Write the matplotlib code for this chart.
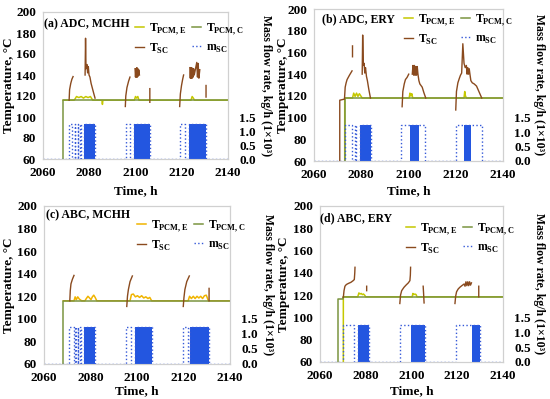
import numpy as np
import matplotlib
matplotlib.use("Agg")
import matplotlib.pyplot as plt

plt.rcParams["font.family"] = "Liberation Serif"
plt.rcParams["font.weight"] = "bold"
plt.rcParams["mathtext.fontset"] = "custom"
plt.rcParams["mathtext.rm"] = "Liberation Serif"
plt.rcParams["mathtext.bf"] = "Liberation Serif:bold"

nan = np.nan
M_ON = 1.24  # kg/h (x10^3) while the solar pump runs

# ---------------- (a) ADC, MCHH
a_pcmc_t = [2068.7, 2068.7, 2140]
a_pcmc_v = [60, 116, 116]
a_pcme_t = [2068.7, 2073.5, 2074.5, 2075.5, 2076.5, 2077.5, 2078.5, 2079.5, 2080.5, 2081.5,
            2085.5, 2085.7, 2085.9, 2099.5, 2100.0, 2100.5, 2101.0, 2101.5,
            2124.0, 2124.5, 2125.0, 2125.5, 2140]
a_pcme_v = [116, 116, 119.5, 118.5, 119.5, 118, 119.5, 118.5, 119.5, 116,
            116, 112, 116, 116, 119.5, 118, 119.5, 116,
            116, 119.5, 118, 116, 116]
a_tsc_t = [2071.3, 2071.5, 2072.0, 2072.5, 2073.0, nan,
           2078.2, 2078.4, 2078.6, 2079.0, 2079.3, 2079.6, 2079.9, 2080.3, 2080.8, 2081.4, 2082.0, 2082.5, nan,
           2095.6, 2095.8, 2096.3, 2097.0, 2097.6, nan,
           2099.8, 2100.0, 2100.2, 2100.4, 2100.6, 2100.8, 2101.0, 2101.2, 2101.4, 2101.7, nan,
           2106.2, 2106.2, nan,
           2119.1, 2119.4, 2119.9, 2120.4, 2120.8, nan,
           2123.5, 2123.7, 2123.9, 2124.1, 2124.3, 2124.5, 2124.7, 2124.9, 2125.1, 2125.4,
           2126.5, 2126.8, 2127.1, 2127.4, 2127.8, nan,
           2130.5, 2130.5]
a_tsc_v = [116, 126, 132, 136, 138.5, nan,
           140, 175, 146, 150, 142, 148, 140, 138, 132, 127, 122, 118, nan,
           110, 120, 128, 134, 138, nan,
           146, 138, 146, 138, 147, 138, 146, 139, 145, 140, nan,
           127, 114, nan,
           110, 122, 130, 136, 140, nan,
           147, 137, 147, 137, 147, 137, 146, 138, 146, 140,
           152, 138, 151, 137, 145, nan,
           130, 119]
a_msc_on = [(2071.3, 2072.7), (2073.8, 2074.0), (2075.0, 2075.2), (2076.1, 2076.3),
            (2095.7, 2097.5), (2119.4, 2121.2)]
a_msc_dense = [(2077.8, 2082.5), (2099.3, 2106.1), (2123.2, 2130.5)]

# ---------------- (b) ADC, ERY
b_pcmc_t = [2073.0, 2073.0, 2140]
b_pcmc_v = [60, 118, 118]
b_pcme_t = [2073.0, 2073.0, 2076.3, 2076.8, 2077.4, 2078.0, 2078.6, 2079.2, 2079.8, 2080.4,
            2100.3, 2100.6, 2101.0, 2101.4, 2101.8, 2123.5, 2123.8, 2124.1, 2124.5, 2140]
b_pcme_v = [60, 118, 118, 122.5, 119.5, 122.5, 119.5, 122, 120, 118,
            118, 122.5, 120, 122, 118, 118, 124, 120, 118, 118]
b_tsc_t = [2070.9, 2070.9, 2072.9, 2073.2, 2073.6, 2074.0, 2075.0, 2076.1, nan,
           2076.3, 2076.3, nan,
           2080.4, 2080.6, 2080.9, 2081.2, 2081.5, 2081.8, 2082.2, 2082.6, 2083.2, 2083.9, nan,
           2097.3, 2097.6, 2098.2, 2098.7, 2099.4, 2100.1, nan,
           2101.6, 2101.9, 2102.2, 2102.5, 2102.8, 2103.1, 2103.4, 2103.7, 2104.0, 2104.4,
           2104.8, 2105.3, 2105.8, 2106.5, 2107.3, nan,
           2120.0, 2120.3, 2120.9, 2121.5, 2122.0, 2122.5, 2123.0, 2123.5, 2124.0, 2124.5,
           2124.8, 2125.1, 2125.4, 2125.7, 2126.0, 2126.4, 2127.0, 2127.8, 2128.8, 2129.8, 2131.0]
b_tsc_v = [60, 116, 117, 128, 132, 135, 139, 143, nan,
           166, 156, nan,
           140, 176, 148, 150, 141, 146, 138, 134, 126, 118, nan,
           110, 124, 131, 135, 137, 140, nan,
           140, 148, 139, 148, 139, 147, 139, 147, 140, 134,
           131, 129.5, 128, 123, 118, nan,
           107, 124, 132, 136, 139, 141, 168, 150, 146, 148,
           140, 146, 140, 145, 140, 134, 132, 131, 129, 124, 118]
b_msc_on = [(2073.1, 2076.2), (2077.2, 2077.9), (2096.8, 2100.6), (2104.5, 2107.0),
            (2120.3, 2123.4), (2126.6, 2131.3)]
b_msc_dense = [(2079.4, 2084.2), (2100.6, 2104.5), (2123.4, 2126.6)]

# ---------------- (c) ABC, MCHH
c_pcmc_t = [2068.3, 2068.3, 2140]
c_pcmc_v = [60, 116, 116]
c_pcme_t = [2068.3, 2072.9, 2073.4, 2073.9, 2074.5, 2075.2, 2076.2,
            2077.6, 2078.2, 2078.9, 2079.6, 2080.2, 2080.8, 2081.4, 2082.0, 2082.7,
            2097.0, 2097.6, 2098.4, 2099.3, 2100.2, 2101.1, 2102.0, 2102.9, 2103.8, 2104.7, 2105.5, 2106.3,
            2122.0, 2122.6, 2123.4, 2124.2, 2125.0, 2125.8, 2126.6, 2127.4, 2128.2, 2129.0, 2129.8, 2130.7,
            2140]
c_pcme_v = [116, 116, 119.5, 117, 119.5, 117.5, 116,
            116, 118, 120, 118.5, 117, 119.5, 121, 119, 116,
            116, 121.5, 122, 119.5, 120.5, 119, 120.5, 118.5, 119.5, 118, 119, 116,
            116, 120, 118, 120, 118, 120, 118.5, 120, 118, 120.5, 121, 116,
            116]
c_tsc_t = [2071.1, 2071.3, 2071.6, 2072.2, 2072.9, nan,
           2095.6, 2095.9, 2096.3, 2097.0, 2098.0, nan,
           2119.9, 2120.2, 2120.6, 2121.4, 2122.5, nan,
           2131.0, 2131.0]
c_tsc_v = [116, 125, 131, 135, 138.5, nan,
           111, 120, 126, 133, 138, nan,
           111, 119, 126, 133, 138, nan,
           116, 127]
c_msc_on = [(2070.9, 2072.9), (2073.5, 2073.7), (2074.5, 2074.7), (2075.6, 2075.8),
            (2095.1, 2097.3), (2119.9, 2122.1)]
c_msc_dense = [(2077.4, 2081.8), (2099.1, 2106.3), (2122.8, 2131.0)]

# ---------------- (d) ABC, ERY
d_pcmc_t = [2068.0, 2068.0, 2070.2, 2070.2, 2140]
d_pcmc_v = [60, 116.5, 116.5, 118.5, 118.5]
d_pcme_t = [2070.2, 2070.2, 2076.5, 2077.0, 2077.5, 2078.0, 2078.5, 2079.0, 2079.5, 2080.0,
            2100.3, 2100.6, 2101.0, 2101.5, 2102.0, 2102.4, 2140]
d_pcme_v = [60, 118.5, 118.5, 122, 121, 121.5, 120.5, 121, 120, 118.5,
            118.5, 121.5, 120.5, 121, 120.5, 118.5, 118.5]
d_tsc_t = [2070.2, 2070.5, 2070.9, 2071.5, 2072.4, 2073.5, 2074.5, 2075.0, 2075.2, 2075.3, nan,
           2080.4, 2080.4, nan,
           2094.9, 2095.2, 2095.7, 2096.7, 2097.6, 2098.6, 2099.3, 2099.5, 2099.6, nan,
           2105.1, 2105.3, 2105.5, nan,
           2119.0, 2119.3, 2119.7, 2120.4, 2121.1, 2122.0, 2123.0, 2123.4, 2123.8, 2124.2,
           2124.6, 2125.0, 2125.4, 2125.8, 2126.2, nan,
           2129.4, 2129.4]
d_tsc_v = [118, 124, 128, 129.5, 130.5, 131.5, 133, 134, 140, 145, nan,
           128, 124, nan,
           112.5, 120, 124, 127, 129, 131, 133, 138, 145, nan,
           128, 121, 113, nan,
           112.5, 119, 123, 125.5, 127, 128.5, 130, 128, 132, 128.5,
           132, 128.5, 132, 129, 131, nan,
           128, 118.5]
d_msc_on = [(2070.2, 2074.9), (2094.8, 2099.7), (2119.4, 2126.3)]
d_msc_dense = [(2076.8, 2081.3), (2099.7, 2105.8), (2126.3, 2129.9)]

C_PCME = "#c5c800"
C_PCME_C = "#f0b400"
C_PCMC = "#7a9440"
C_TSC = "#8a4a1e"
C_MSC = "#3559d8"
C_DENSE = "#2356e0"

W, H = 550, 399
FS_TICK = 9.5
FS_LAB = 9.5


def msc_steps(on, dense):
    # step signal of the solar pump built from on-intervals
    iv = sorted(on + dense)
    merged = []
    for s, e in iv:
        if merged and s <= merged[-1][1] + 1e-9:
            merged[-1][1] = max(merged[-1][1], e)
        else:
            merged.append([s, e])
    t, v = [2060], [0]
    for s, e in merged:
        t += [s, s, e, e]
        v += [0, M_ON, M_ON, 0]
    t.append(2140)
    v.append(0)
    return t, v


def panel(fig, box, title, title_xy, pcme, pcmc, tsc, on, dense, c_pcme,
          leg_xy, xlab_y, ticklab_pad, ylab_x, rlab_x):
    l, r, t, b = box
    ax = fig.add_axes([l / W, 1 - b / H, (r - l) / W, (b - t) / H])
    ax2 = ax.twinx()

    ax.plot(pcme[0], pcme[1], color=c_pcme, lw=1.1, label=r"T$_{\mathbf{PCM,E}}$", zorder=3)
    ax.plot(pcmc[0], pcmc[1], color=C_PCMC, lw=1.1, label=r"T$_{\mathbf{PCM,C}}$", zorder=4)
    ax.plot(tsc[0], tsc[1], color=C_TSC, lw=1.0, label=r"T$_{\mathbf{SC}}$", zorder=5)

    st, sv = msc_steps(on, dense)
    ax2.plot(st, sv, color=C_MSC, lw=1.0, ls=":", label=r"m$_{\mathbf{SC}}$")
    for s, e in dense:
        ax2.fill_between([s, e], 0, M_ON, color=C_DENSE, lw=0)

    ax.set_xlim(2060, 2140)
    ax.set_ylim(60, 200)
    ax.set_xticks([2060, 2080, 2100, 2120, 2140])
    ax.set_yticks(range(60, 201, 20))
    ax2.set_ylim(0, 5.25)
    ax2.set_yticks([0, 0.5, 1.0, 1.5])
    ax2.set_yticklabels(["0.0", "0.5", "1.0", "1.5"])

    for a in (ax, ax2):
        for sp in a.spines.values():
            sp.set_color("#d0d0d0")
            sp.set_linewidth(0.8)
    ax.tick_params(axis="x", length=0, pad=ticklab_pad, labelsize=FS_TICK)
    ax.tick_params(axis="y", length=0, pad=5, labelsize=FS_TICK)
    ax2.tick_params(axis="y", length=0, pad=8, labelsize=FS_TICK)

    ax.set_ylabel("Temperature, °C", fontsize=FS_LAB, fontweight="bold", va="center")
    ax.yaxis.set_label_coords((ylab_x - l) / (r - l), 0.5)
    ax2.set_ylabel("Mass flow rate, kg/h (1×10³)", fontsize=8.5, fontweight="bold",
                   rotation=270, va="center")
    ax2.yaxis.set_label_coords((rlab_x - l) / (r - l), 0.5)
    ax.set_xlabel("Time, h", fontsize=FS_LAB, fontweight="bold", va="center")
    ax.xaxis.set_label_coords(0.5, (b - xlab_y) / (b - t))

    fig.text(title_xy[0] / W, 1 - title_xy[1] / H, title, fontsize=8.5, fontweight="bold",
             va="center", ha="left")

    h1, lab1 = ax.get_legend_handles_labels()
    h2, lab2 = ax2.get_legend_handles_labels()
    hd = dict(zip(lab1 + lab2, h1 + h2))
    order = [r"T$_{\mathbf{PCM,E}}$", r"T$_{\mathbf{SC}}$", r"T$_{\mathbf{PCM,C}}$", r"m$_{\mathbf{SC}}$"]
    ax2.legend([hd[k] for k in order], order, ncol=2, frameon=False,
               loc="upper left", bbox_to_anchor=(leg_xy[0] / W, 1 - leg_xy[1] / H),
               bbox_transform=fig.transFigure, borderpad=0, borderaxespad=0,
               handlelength=0.8, handletextpad=0.35, columnspacing=0.5,
               labelspacing=0.4, prop={"size": 8.5, "weight": "bold"})
    return ax


fig = plt.figure(figsize=(5.5, 3.99), dpi=100)

panel(fig, (43, 228, 12, 159), "(a) ADC, MCHH", (44, 24),
      (a_pcme_t, a_pcme_v), (a_pcmc_t, a_pcmc_v), (a_tsc_t, a_tsc_v),
      a_msc_on, a_msc_dense, C_PCME, (135, 21), 191, 6, 9, 266)
panel(fig, (314, 503, 9, 161), "(b) ADC, ERY", (322, 19),
      (b_pcme_t, b_pcme_v), (b_pcmc_t, b_pcmc_v), (b_tsc_t, b_tsc_v),
      b_msc_on, b_msc_dense, C_PCME, (404, 12), 191, 6, 283, 539)
panel(fig, (44, 230, 206, 364), "(c) ABC, MCHH", (46, 215),
      (c_pcme_t, c_pcme_v), (c_pcmc_t, c_pcmc_v), (c_tsc_t, c_tsc_v),
      c_msc_on, c_msc_dense, C_PCME_C, (137, 218), 391, 6, 9, 268)
panel(fig, (320, 503, 206, 362), "(d) ABC, ERY", (320, 218),
      (d_pcme_t, d_pcme_v), (d_pcmc_t, d_pcmc_v), (d_tsc_t, d_tsc_v),
      d_msc_on, d_msc_dense, C_PCME, (406, 221), 391, 6, 284, 539)

fig.savefig("out.png", dpi=100)
